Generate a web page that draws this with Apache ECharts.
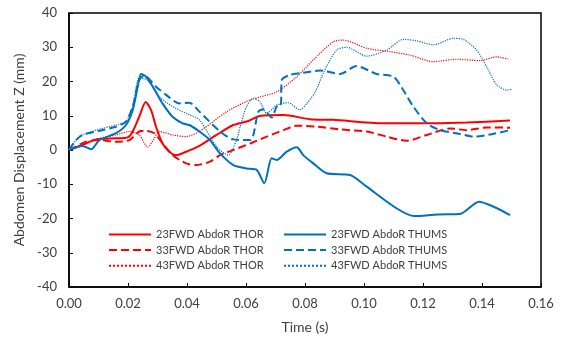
<!DOCTYPE html>
<html><head><meta charset="utf-8">
<script src="https://cdn.jsdelivr.net/npm/echarts@6/dist/echarts.min.js"></script>
<style>html,body{margin:0;padding:0;background:#fff}#c{width:564px;height:344px}</style>
</head><body><div id="c"></div>
<script>
const seriesNames = ['23FWD AbdoR THOR','33FWD AbdoR THOR','43FWD AbdoR THOR','23FWD AbdoR THUMS','33FWD AbdoR THUMS','43FWD AbdoR THUMS'];
const xTicks = ['0.00','0.02','0.04','0.06','0.08','0.10','0.12','0.14','0.16'];

const t23thor = [0,0.0046,0.0092,0.0159,0.0199,0.0216,0.0238,0.026,0.0278,0.0295,0.0317,0.034,0.0363,0.0397,0.0442,0.05,0.0557,0.0602,0.0647,0.0727,0.0817,0.0895,0.1065,0.1235,0.1348,0.1495];
const v23thor = [0,1.5,3.1,3.4,3.7,5.4,9.7,14.0,11.7,6.8,1.9,-0.5,-1.5,-0.5,1.2,4.4,7.3,8.3,9.9,10.2,9,8.8,7.8,7.8,8,8.6];

const t33thor = [0,0.0058,0.0103,0.0159,0.0205,0.0238,0.0261,0.0289,0.0317,0.0351,0.0397,0.043,0.0478,0.0512,0.0557,0.0614,0.067,0.0727,0.0772,0.084,0.0919,0.1009,0.1077,0.1145,0.1213,0.1292,0.1348,0.1416,0.1495];
const v33thor = [0,2.4,2.9,2.4,2.9,5.4,5.6,4.9,2,-1.5,-3.9,-4.4,-3.4,-1.5,0,1.9,3.9,5.8,7.1,6.8,6,5.4,3.9,2.7,4.4,6.3,5.8,6.6,6.5];

const t43thor = [0,0.0103,0.0159,0.0205,0.0238,0.0267,0.0289,0.0306,0.0351,0.0397,0.0442,0.0535,0.0614,0.0704,0.0772,0.0828,0.0896,0.093,0.1009,0.1088,0.1156,0.1235,0.1314,0.1393,0.145,0.1489];
const v43thor = [0,3.4,4.4,5.4,4.4,0.8,3.4,5.4,4.4,3.9,5.4,11.2,14.6,17,21.4,26.3,31.6,32.1,29.7,28.7,27.7,25.8,26.5,26.1,27.2,26.5];

const t23thums = [0,0.0046,0.0075,0.0103,0.0159,0.0193,0.0216,0.0233,0.0244,0.0261,0.0284,0.0317,0.0351,0.0385,0.0408,0.0442,0.0478,0.0512,0.0557,0.0602,0.0636,0.0662,0.0687,0.0704,0.0738,0.0772,0.0794,0.0828,0.0873,0.0953,0.1009,0.111,0.117,0.125,0.1325,0.139,0.1438,0.1495];
const v23thums = [0,1.2,0.2,2.9,4.9,7.3,11.7,18.5,22.2,21.4,18.5,13.6,9.7,7.8,7.3,5.4,2.9,-1,-4.4,-5.4,-5.8,-9.7,-2.4,-2.9,-0.5,0.8,-1.5,-3.9,-6.8,-7.3,-10.7,-17,-19.3,-18.8,-18.7,-15.1,-16.5,-19];

const t33thums = [0,0.0024,0.0046,0.0103,0.0159,0.0193,0.0216,0.0238,0.0255,0.0295,0.0329,0.0374,0.0408,0.0442,0.0512,0.0557,0.0614,0.0625,0.0642,0.0659,0.0687,0.0704,0.0718,0.0721,0.0749,0.0783,0.0851,0.0919,0.0975,0.1043,0.11,0.1133,0.1167,0.1213,0.1258,0.1325,0.1371,0.1438,0.1495];
const v33thums = [0,2.9,4.4,5.6,6.8,8.3,12.7,20.4,21.8,18.5,16.1,13.6,13.8,11.2,5.4,3.1,2.9,4.4,11.2,11.9,9.5,12.7,13,20.4,21.9,22.4,23.2,22.2,24.5,22.2,21.4,17.5,12.7,7.8,5.8,4.7,3.9,4.7,5.8];

const t43thums = [0,0.0035,0.0092,0.0159,0.0193,0.0216,0.0238,0.0267,0.0306,0.0351,0.0397,0.0442,0.05,0.054,0.0568,0.058,0.0602,0.0625,0.0647,0.067,0.0704,0.0743,0.0783,0.0806,0.0835,0.0865,0.0907,0.0941,0.1009,0.1077,0.1133,0.1178,0.1235,0.1303,0.1337,0.1382,0.1416,0.145,0.1484,0.15];
const v43thums = [0,3.9,5.8,7.3,8.3,12.7,21,20.4,15.6,12.7,10.7,8.8,1,-1.5,2.9,6.8,12.7,15.1,14.1,10.7,13.1,13.8,11.7,13.6,17,23,29.2,30,27.4,29.2,32.3,31.9,30.7,32.6,32.3,29.2,24.3,19,17.5,17.7];

const RED = '#FF0000', BLUE = '#0070C0';
function pairs(t, v){ return t.map((x,i)=>[x, v[i]]); }
const defs = [
  [t23thor, v23thor, RED, 'solid', 2],
  [t33thor, v33thor, RED, 'dashed', 2],
  [t43thor, v43thor, RED, 'dotted', 1.2],
  [t23thums, v23thums, BLUE, 'solid', 2],
  [t33thums, v33thums, BLUE, 'dashed', 2],
  [t43thums, v43thums, BLUE, 'dotted', 1.2]
];
const series = defs.map((d,i)=>({
  name: seriesNames[i], type:'line', data: pairs(d[0], d[1]),
  showSymbol:false, symbol:'none', smooth:0.25,
  lineStyle:{color:d[2], type:d[3], width:d[4]},
  itemStyle:{color:d[2]}
}));
const FONT = 'Lato';
const legendCommon = {orient:'vertical', top:224, itemWidth:42, itemHeight:10, itemGap:4.6,
  textStyle:{fontFamily:FONT, fontSize:11, color:'#404040'}, itemStyle:{opacity:0, borderWidth:0}};
const chart = echarts.init(document.getElementById('c'));
chart.setOption({
  animation:false,
  backgroundColor:'#fff',
  grid:{left:69, right:23, top:13, bottom:57, show:true, borderColor:'#000', borderWidth:1.5},
  legend:[
    Object.assign({}, legendCommon, {left:103, data:seriesNames.slice(0,3)}),
    Object.assign({}, legendCommon, {left:278, data:seriesNames.slice(3)})
  ],
  xAxis:{type:'value', min:0, max:0.16, interval:0.02,
    name:'Time (s)', nameLocation:'middle', nameGap:33,
    nameTextStyle:{fontFamily:FONT, fontSize:14, color:'#404040'},
    axisLine:{show:true, onZero:false, lineStyle:{color:'#000', width:1.5}},
    axisTick:{show:true, inside:true, length:4, lineStyle:{color:'#000'}},
    axisLabel:{fontFamily:FONT, fontSize:13, color:'#404040', margin:10,
      formatter:(v)=>{const i=Math.round(v/0.02); return xTicks[i]!==undefined?xTicks[i]:v.toFixed(2);}},
    splitLine:{show:false}},
  yAxis:{type:'value', min:-40, max:40, interval:10,
    name:'Abdomen Displacement Z (mm)', nameLocation:'middle', nameGap:41,
    nameTextStyle:{fontFamily:FONT, fontSize:14, color:'#404040'},
    axisLine:{show:true, lineStyle:{color:'#000', width:1.5}},
    axisTick:{show:true, inside:true, length:4, lineStyle:{color:'#000'}},
    axisLabel:{fontFamily:FONT, fontSize:13, color:'#404040', margin:12},
    splitLine:{show:false}},
  series: series
});
</script></body></html>
